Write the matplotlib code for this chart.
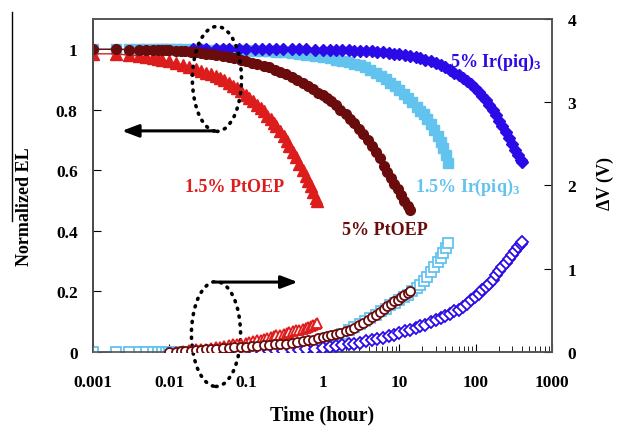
import numpy as np
import matplotlib
matplotlib.use("Agg")
import matplotlib.pyplot as plt
from matplotlib.patches import Ellipse
from matplotlib.lines import Line2D

nan = np.nan

# ---------------- data ----------------
# 1.5% Ir(piq)3
t_lb = [0.001,0.002,0.003,0.004,0.005,0.006,0.007,0.008,0.009,0.01,0.012,0.015,0.02,0.025,0.03,0.04,0.05,0.06,0.08,0.1,
        0.13,0.16,0.2,0.25,0.3,0.4,0.5,0.6,0.8,1.0,1.25,1.5,1.8,2.2,2.6,3.1,3.6,4.2,5.0,5.8,6.7,7.7,8.8,10,11.5,13,15,17,19,21,
        23.5,26,29,32,35,38,41,44]
el_lb = [1.0,1.0,1.0,1.0,1.0,1.0,1.0,1.0,1.0,1.0,1.0,1.0,1.0,1.0,0.999,0.999,0.998,0.998,0.997,0.996,
         0.995,0.994,0.993,0.992,0.99,0.988,0.985,0.982,0.978,0.975,0.97,0.966,0.962,0.957,0.952,0.947,0.94,0.932,0.922,0.912,
         0.902,0.89,0.878,0.866,0.852,0.84,0.825,0.81,0.797,0.785,0.77,0.752,0.732,0.712,0.695,0.673,0.65,0.625]
dv_lb = [0,0,0,0,0,0,0,0,0,0,0,0,0,0,0,0.005,0.01,0.01,0.015,0.02,
         0.025,0.03,0.035,0.04,0.05,0.06,0.07,0.08,0.1,0.13,0.16,0.19,0.22,0.26,0.3,0.34,0.37,0.41,0.45,0.49,
         0.52,0.56,0.59,0.62,0.66,0.69,0.73,0.77,0.80,0.85,0.90,0.96,1.02,1.08,1.13,1.19,1.25,1.31]

# 5% Ir(piq)3
t_b = [0.02,0.025,0.03,0.04,0.05,0.06,0.08,0.1,0.13,0.16,0.2,0.25,0.3,0.4,0.5,0.6,0.8,1.0,1.25,1.5,1.8,2.2,2.6,3.1,3.7,
       4.4,5.2,6.2,7.3,8.6,10,12,14,16.5,19,22,26,30,35,40,46,53,60,68,77,87,98,110,123,137,152,168,185,205,225,250,275,
       300,330,360,390,405]
el_b = [1.0,1.0,1.0,1.0,1.0,1.0,1.0,1.0,1.0,1.0,1.0,1.0,1.0,1.0,1.0,1.0,0.999,0.999,0.998,0.998,0.997,0.996,0.995,0.995,0.994,
        0.993,0.992,0.99,0.988,0.986,0.984,0.981,0.978,0.975,0.971,0.966,0.96,0.955,0.948,0.94,0.932,0.922,0.914,0.905,0.895,
        0.884,0.872,0.86,0.846,0.831,0.815,0.8,0.783,0.764,0.746,0.726,0.706,0.688,0.668,0.65,0.635,0.627]
dv_b = [0,0,0,0,0,0,0,0,0.005,0.005,0.01,0.01,0.015,0.02,0.025,0.03,0.04,0.05,0.06,0.07,0.08,0.09,0.1,0.11,0.13,
        0.14,0.16,0.17,0.19,0.21,0.23,0.25,0.27,0.29,0.31,0.33,0.36,0.38,0.41,0.43,0.46,0.49,0.51,0.54,0.58,
        0.62,0.66,0.70,0.74,0.78,0.82,0.87,0.92,0.97,1.02,1.07,1.12,1.16,1.21,1.26,1.30,1.32]

# 5% PtOEP
t_dr = [0.001,0.002,0.003,0.004,0.005,0.006,0.007,0.008,0.009,0.01,0.012,0.014,0.016,0.019,0.022,0.026,0.03,0.035,0.04,0.05,
        0.06,0.07,0.085,0.1,0.12,0.14,0.17,0.2,0.24,0.28,0.33,0.4,0.47,0.55,0.65,0.75,0.88,1.0,1.15,1.3,1.5,1.7,2.0,2.3,2.6,
        3.0,3.4,3.9,4.4,5.0,5.6,6.3,7.0,7.8,8.7,9.6,10.6,11.7,13.0,14.0]
el_dr = [1.0,1.0,0.999,0.999,0.998,0.998,0.997,0.997,0.996,0.996,0.995,0.994,0.993,0.991,0.99,0.988,0.986,0.984,0.982,0.978,
         0.974,0.97,0.965,0.96,0.955,0.95,0.945,0.94,0.933,0.926,0.918,0.908,0.9,0.89,0.878,0.868,0.856,0.848,0.84,0.83,
         0.815,0.8,0.785,0.77,0.755,0.737,0.72,0.7,0.68,0.66,0.64,0.615,0.595,0.575,0.555,0.537,0.518,0.5,0.482,0.468]
dv_dr = [nan,nan,nan,nan,nan,nan,nan,nan,nan,0.0,0.005,0.01,0.01,0.015,0.02,0.025,0.03,0.035,0.04,0.045,
         0.05,0.055,0.06,0.065,0.07,0.075,0.08,0.085,0.09,0.095,0.10,0.11,0.12,0.13,0.14,0.15,0.165,0.18,0.19,0.20,
         0.22,0.23,0.25,0.27,0.29,0.32,0.35,0.39,0.42,0.45,0.48,0.52,0.55,0.58,0.61,0.63,0.66,0.68,0.71,0.73]

# 1.5% PtOEP
t_r = [0.001,0.002,0.003,0.004,0.005,0.006,0.007,0.008,0.01,0.012,0.015,0.018,0.022,0.026,0.03,0.035,0.04,0.046,0.052,0.06,
       0.068,0.077,0.087,0.1,0.11,0.125,0.14,0.155,0.17,0.19,0.21,0.23,0.25,0.28,0.31,0.34,0.37,0.41,0.45,0.5,0.55,0.6,
       0.65,0.7,0.76,0.82,0.85]
el_r = [0.985,0.985,0.98,0.978,0.975,0.972,0.968,0.965,0.96,0.955,0.948,0.942,0.935,0.928,0.922,0.917,0.912,0.905,0.898,0.89,
        0.88,0.872,0.862,0.85,0.84,0.828,0.816,0.805,0.795,0.78,0.77,0.758,0.748,0.73,0.713,0.697,0.68,0.66,0.643,0.62,
        0.60,0.582,0.565,0.548,0.528,0.51,0.50]
dv_r = [nan,nan,nan,nan,nan,nan,nan,nan,nan,0.0,0.01,0.02,0.03,0.035,0.04,0.05,0.055,0.06,0.07,0.08,
        0.09,0.095,0.10,0.11,0.12,0.13,0.14,0.15,0.16,0.17,0.18,0.19,0.20,0.21,0.22,0.23,0.24,0.25,0.26,0.27,
        0.28,0.29,0.30,0.31,0.33,0.34,0.35]

x_ticks = [0.001, 0.01, 0.1, 1, 10, 100, 1000]
x_ticklabels = ["0.001", "0.01", "0.1", "1", "10", "100", "1000"]
yl_ticks = [0, 0.2, 0.4, 0.6, 0.8, 1.0]
yl_ticklabels = ["0", "0.2", "0.4", "0.6", "0.8", "1"]
yr_ticks = [0, 1, 2, 3, 4]

# ---------------- style ----------------
plt.rcParams['font.family'] = ['Liberation Serif', 'DejaVu Serif']
plt.rcParams['font.weight'] = 'bold'
plt.rcParams['mathtext.fontset'] = 'custom'
plt.rcParams['mathtext.rm'] = 'Liberation Serif:bold'
plt.rcParams['mathtext.bf'] = 'Liberation Serif:bold'
plt.rcParams['mathtext.it'] = 'Liberation Serif:bold'

C_LB = '#62c3ef'
C_B = '#2a0ae6'
C_DR = '#6a0c0c'
C_R = '#dd1c1c'

fig = plt.figure(figsize=(6.17, 4.31), dpi=100)
ax = fig.add_axes([0.1507, 0.181, 0.744, 0.7726])
ax2 = ax.twinx()

# EL (filled markers)
ax.plot(t_lb, el_lb, color=C_LB, marker='s', ms=7, lw=1, mec=C_LB, zorder=2)
ax.plot(t_b, el_b, color=C_B, marker='D', ms=6.5, lw=1, mec=C_B, zorder=3)
ax.plot(t_r, el_r, color=C_R, marker='^', ms=8, lw=1, mec=C_R, zorder=4)
ax.plot(t_dr, el_dr, color=C_DR, marker='o', ms=7, lw=1, mec=C_DR, zorder=5)

# dV (open markers)
ax2.plot(t_lb, dv_lb, color=C_LB, marker='s', ms=6.5, lw=1, mfc='white', mec=C_LB, mew=1.3, zorder=2)
ax2.plot(t_b, dv_b, color=C_B, marker='D', ms=6, lw=1, mfc='white', mec=C_B, mew=1.3, zorder=3)
ax2.plot(t_r, dv_r, color=C_R, marker='^', ms=7.5, lw=1, mfc='white', mec=C_R, mew=1.3, zorder=4)
ax2.plot(t_dr, dv_dr, color=C_DR, marker='o', ms=6.5, lw=1, mfc='white', mec=C_DR, mew=1.3, zorder=5)

ax.set_xscale('log')
ax.set_xlim(0.001, 1000)
ax.set_ylim(0, 1.1)
ax2.set_ylim(0, 4)
ax.set_xticks(x_ticks)
ax.set_xticklabels(x_ticklabels)
ax.set_yticks(yl_ticks)
ax.set_yticklabels(yl_ticklabels)
ax2.set_yticks(yr_ticks)
ax2.set_yticklabels([str(v) for v in yr_ticks])

ax.tick_params(axis='x', which='major', direction='in', length=6, labelsize=12.5, pad=16)
ax.tick_params(axis='x', which='minor', direction='in', length=4)
ax.tick_params(axis='y', direction='in', length=6, labelsize=12.5, pad=11)
ax2.tick_params(axis='y', direction='in', length=6, labelsize=12.5, pad=11)

for a in (ax, ax2):
    for s in a.spines.values():
        s.set_color('#555555')
        s.set_linewidth(1.2)
ax.spines['left'].set_color('black')

ax.set_xlabel('Time (hour)', fontsize=14.5, fontweight='bold', labelpad=10)
ax.set_ylabel('Normalized EL', fontsize=13, fontweight='bold')
ax.yaxis.set_label_coords(-0.130, 0.44)
ax2.set_ylabel(r'$\Delta$V (V)', fontsize=13, fontweight='bold')
ax2.yaxis.set_label_coords(1.094, 0.51)

# stray vertical line at far left
fig.add_artist(Line2D([0.0194, 0.0194], [0.970, 0.485], color='black', lw=1.0, transform=fig.transFigure))

# series labels
ax.text(0.778, 0.874, r'5% Ir(piq)$_{\mathbf{3}}$', transform=ax.transAxes, color=C_B, fontsize=13, ha='left', va='center')
ax.text(0.701, 0.498, r'1.5% Ir(piq)$_{\mathbf{3}}$', transform=ax.transAxes, color=C_LB, fontsize=13, ha='left', va='center')
ax.text(0.200, 0.498, '1.5% PtOEP', transform=ax.transAxes, color=C_R, fontsize=13, ha='left', va='center')
ax.text(0.543, 0.369, '5% PtOEP', transform=ax.transAxes, color=C_DR, fontsize=13, ha='left', va='center')

# dotted ellipses
for (cx, cy) in [(0.270, 0.820), (0.268, 0.054)]:
    e = Ellipse((cx, cy), 0.107, 0.315, transform=ax.transAxes, fill=False, edgecolor='black',
                lw=2.6, linestyle=(0, (0.3, 1.9)), capstyle='round', clip_on=False, zorder=10)
    ax.add_patch(e)

# arrows
ax.annotate('', xy=(0.063, 0.664), xytext=(0.266, 0.664), xycoords='axes fraction', textcoords='axes fraction',
            arrowprops=dict(arrowstyle='-|>,head_length=1.0,head_width=0.38', color='black', lw=2.2,
                            shrinkA=0, shrinkB=0), zorder=11)
ax.annotate('', xy=(0.446, 0.210), xytext=(0.266, 0.210), xycoords='axes fraction', textcoords='axes fraction',
            arrowprops=dict(arrowstyle='-|>,head_length=1.0,head_width=0.38', color='black', lw=2.2,
                            shrinkA=0, shrinkB=0), zorder=11)

fig.savefig('out.png', dpi=100)
